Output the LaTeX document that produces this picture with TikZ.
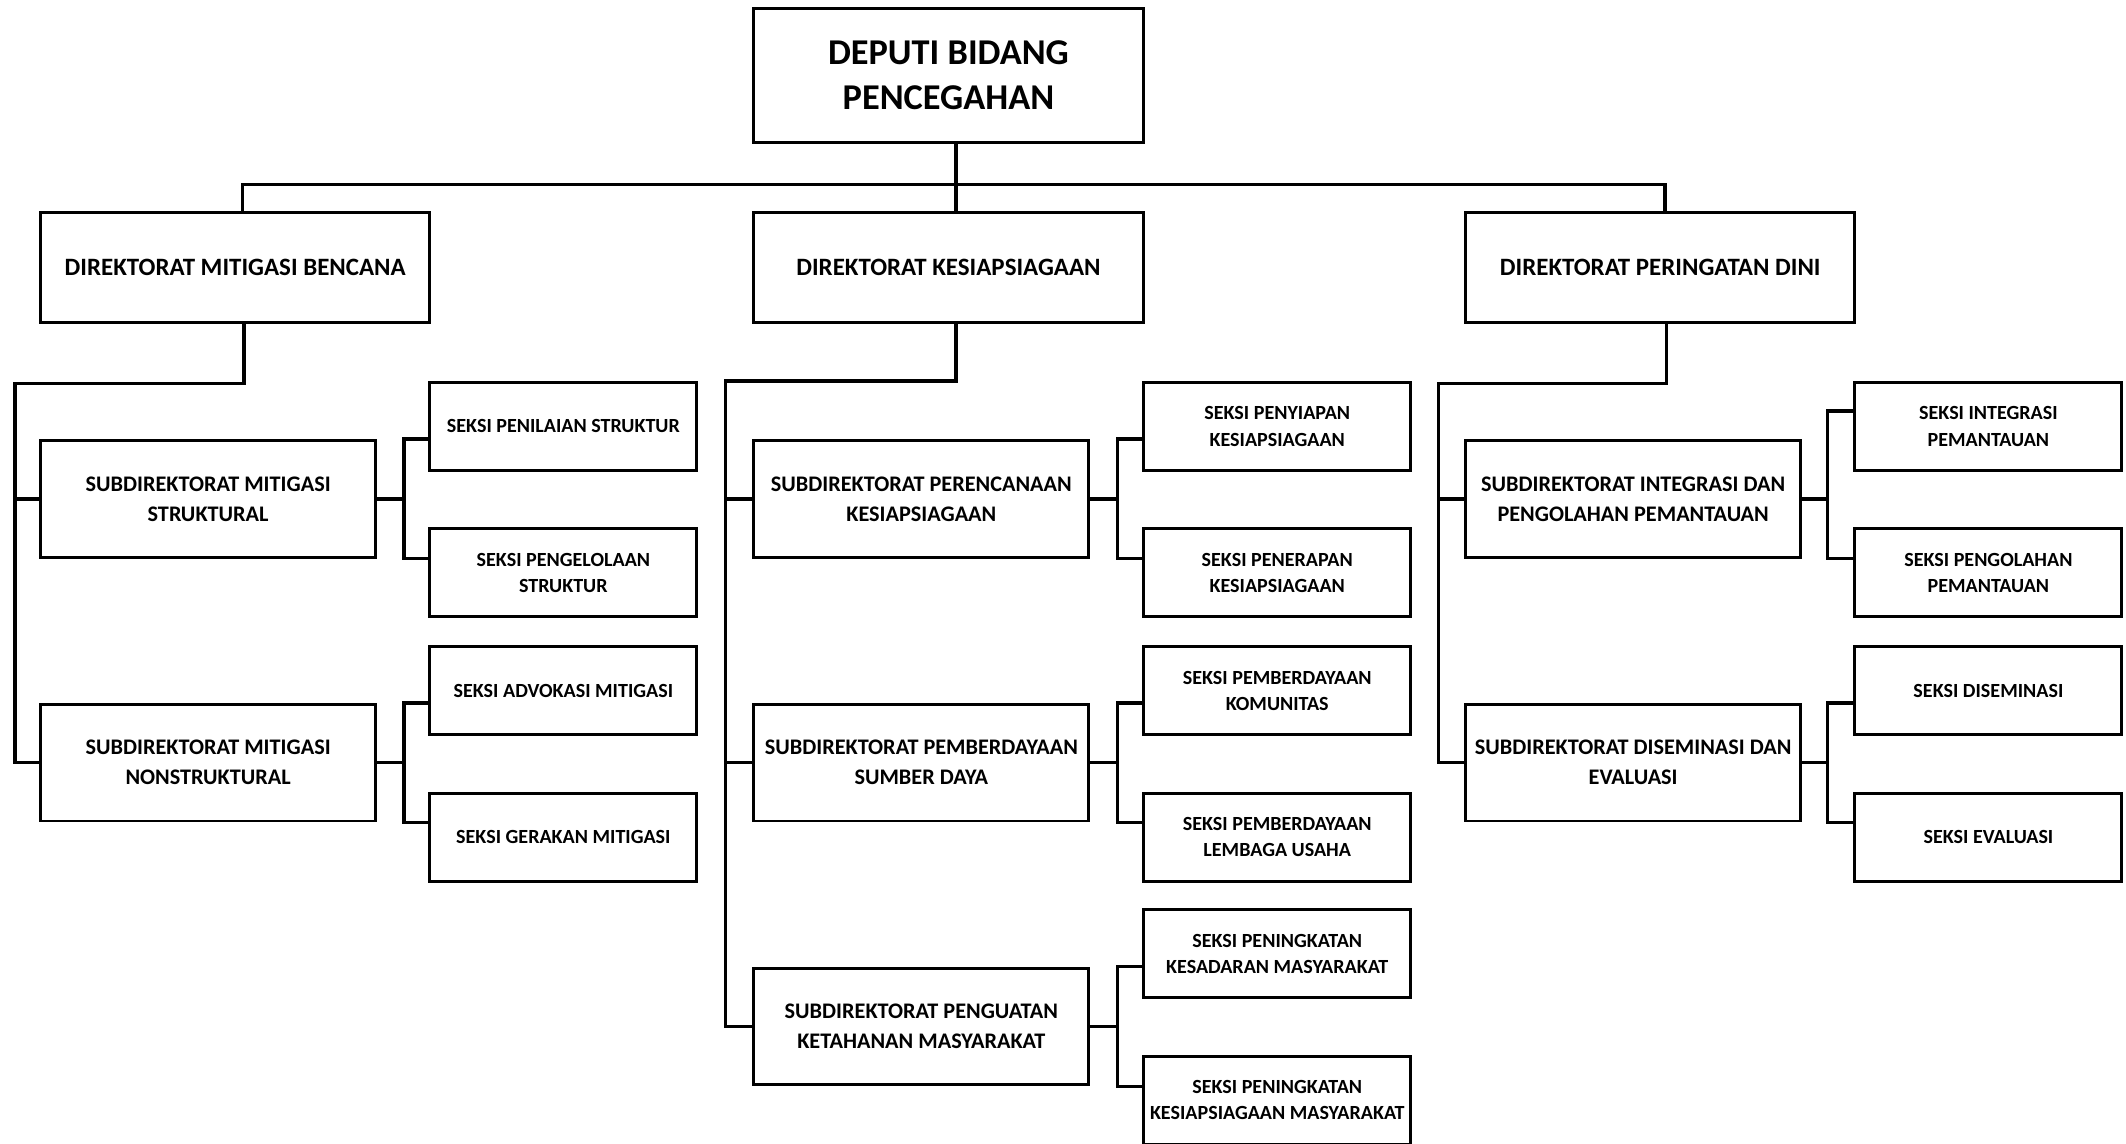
\documentclass[tikz,border=0pt]{standalone}
\usepackage{fontspec}
\setmainfont{Carlito}
\begin{document}
\begin{tikzpicture}[x=0.5pt,y=-0.5pt,
 box/.style={draw,line width=1.1pt,inner sep=0pt,align=center},
 topbox/.style={box,minimum width=143.5pt,minimum height=49.5pt,font=\fontsize{13.4}{16.5}\selectfont\bfseries},
 dirbox/.style={box,minimum width=143.5pt,minimum height=40.5pt,font=\fontsize{9.2}{11}\selectfont\bfseries},
 subbox/.style={box,minimum width=123.5pt,minimum height=43pt,font=\fontsize{8.2}{11}\selectfont\bfseries},
 sekbox/.style={box,minimum width=98.5pt,minimum height=32.5pt,font=\fontsize{7.4}{9.7}\selectfont\bfseries},
 conn/.style={line width=1.25pt}]
\useasboundingbox (0,0) rectangle (1568,843);
% nodes
\node[topbox] (top) at (699.5,55.5) {DEPUTI BIDANG\\PENCEGAHAN};
\node[dirbox] (dirA) at (173.5,197.5) {DIREKTORAT MITIGASI BENCANA};
\node[dirbox] (dirB) at (699.5,197.5) {DIREKTORAT KESIAPSIAGAAN};
\node[dirbox] (dirC) at (1224.5,197.5) {DIREKTORAT PERINGATAN DINI};
\node[subbox] (A1) at (153.5,368) {SUBDIREKTORAT MITIGASI\\STRUKTURAL};
\node[subbox] (A2) at (153.5,562.5) {SUBDIREKTORAT MITIGASI\\NONSTRUKTURAL};
\node[subbox] (B1) at (679.5,368) {SUBDIREKTORAT PERENCANAAN\\KESIAPSIAGAAN};
\node[subbox] (B2) at (679.5,562.5) {SUBDIREKTORAT PEMBERDAYAAN\\SUMBER DAYA};
\node[subbox] (B3) at (679.5,757) {SUBDIREKTORAT PENGUATAN\\KETAHANAN MASYARAKAT};
\node[subbox] (C1) at (1204.5,368) {SUBDIREKTORAT INTEGRASI DAN\\PENGOLAHAN PEMANTAUAN};
\node[subbox] (C2) at (1204.5,562.5) {SUBDIREKTORAT DISEMINASI DAN\\EVALUASI};
\node[sekbox] (sA1) at (415.5,314.5) {SEKSI PENILAIAN STRUKTUR};
\node[sekbox] (sA2) at (415.5,422.5) {SEKSI PENGELOLAAN\\STRUKTUR};
\node[sekbox] (sA3) at (415.5,509.5) {SEKSI ADVOKASI MITIGASI};
\node[sekbox] (sA4) at (415.5,617.5) {SEKSI GERAKAN MITIGASI};
\node[sekbox] (sB1) at (942,314.5) {SEKSI PENYIAPAN\\KESIAPSIAGAAN};
\node[sekbox] (sB2) at (942,422.5) {SEKSI PENERAPAN\\KESIAPSIAGAAN};
\node[sekbox] (sB3) at (942,509.5) {SEKSI PEMBERDAYAAN\\KOMUNITAS};
\node[sekbox] (sB4) at (942,617.5) {SEKSI PEMBERDAYAAN\\LEMBAGA USAHA};
\node[sekbox] (sB5) at (942,703.5) {SEKSI PENINGKATAN\\KESADARAN MASYARAKAT};
\node[sekbox] (sB6) at (942,811.5) {SEKSI PENINGKATAN\\KESIAPSIAGAAN MASYARAKAT};
\node[sekbox] (sC1) at (1466.5,314.5) {SEKSI INTEGRASI\\PEMANTAUAN};
\node[sekbox] (sC2) at (1466.5,422.5) {SEKSI PENGOLAHAN\\PEMANTAUAN};
\node[sekbox] (sC3) at (1466.5,509.5) {SEKSI DISEMINASI};
\node[sekbox] (sC4) at (1466.5,617.5) {SEKSI EVALUASI};
% junction coordinates
\coordinate (jA) at (179,136);
\coordinate (jB) at (705,136);
\coordinate (jC) at (1228,136);
\coordinate (kA) at (180,283);
\coordinate (spA) at (11,283);
\coordinate (kB) at (705,281);
\coordinate (spB) at (535,281);
\coordinate (kC) at (1229,283);
\coordinate (spC) at (1061,283);
\coordinate (fA) at (298,0);
\coordinate (fB) at (824,0);
\coordinate (fC) at (1348,0);
\coordinate (cC1) at (1348,303);
% top level
\draw[conn] (top.south -| jB) -- (jB |- dirB.north);
\draw[conn] (jA |- dirA.north) -- (jA) -- (jC) -- (jC |- dirC.north);
% directorate to subdirectorates
\draw[conn] (kA |- dirA.south) -- (kA) -- (spA) -- (spA |- A2.west) -- (A2.west);
\draw[conn] (spA |- A1.west) -- (A1.west);
\draw[conn] (kB |- dirB.south) -- (kB) -- (spB) -- (spB |- B3.west) -- (B3.west);
\draw[conn] (spB |- B1.west) -- (B1.west);
\draw[conn] (spB |- B2.west) -- (B2.west);
\draw[conn] (kC |- dirC.south) -- (kC) -- (spC) -- (spC |- C2.west) -- (C2.west);
\draw[conn] (spC |- C1.west) -- (C1.west);
% subdirectorates to sections
\draw[conn] (A1.east) -- (A1.east -| fA);
\draw[conn] (sA1.west |- A1.north) -- (fA |- A1.north) -- (fA |- A1.south) -- (sA2.west |- A1.south);
\draw[conn] (A2.east) -- (A2.east -| fA);
\draw[conn] (sA3.west |- A2.north) -- (fA |- A2.north) -- (fA |- A2.south) -- (sA4.west |- A2.south);
\draw[conn] (B1.east) -- (B1.east -| fB);
\draw[conn] (sB1.west |- B1.north) -- (fB |- B1.north) -- (fB |- B1.south) -- (sB2.west |- B1.south);
\draw[conn] (B2.east) -- (B2.east -| fB);
\draw[conn] (sB3.west |- B2.north) -- (fB |- B2.north) -- (fB |- B2.south) -- (sB4.west |- B2.south);
\draw[conn] (B3.east) -- (B3.east -| fB);
\draw[conn] (sB5.west |- B3.north) -- (fB |- B3.north) -- (fB |- B3.south) -- (sB6.west |- B3.south);
\draw[conn] (C1.east) -- (C1.east -| fC);
\draw[conn] (sC1.west |- cC1) -- (cC1) -- (fC |- C1.south) -- (sC2.west |- C1.south);
\draw[conn] (C2.east) -- (C2.east -| fC);
\draw[conn] (sC3.west |- C2.north) -- (fC |- C2.north) -- (fC |- C2.south) -- (sC4.west |- C2.south);
\end{tikzpicture}
\end{document}
